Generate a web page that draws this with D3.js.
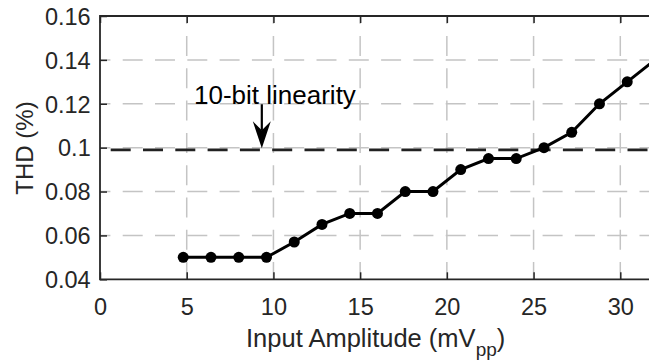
<!DOCTYPE html>
<html lang="en">
<head>
<meta charset="UTF-8">
<title>THD vs Input Amplitude</title>
<script src="https://d3js.org/d3.v7.min.js"></script>
<style>
  body { margin: 0; background: #fff; }
  svg { font-family: "Liberation Sans", Arial, Helvetica, sans-serif; }
</style>
</head>
<body>
<script>
// measured points (mVpp, THD %)
const amplitude = [4.8, 6.4, 8.0, 9.6, 11.2, 12.8, 14.4, 16.0, 17.6, 19.2, 20.8, 22.4, 24.0, 25.6, 27.2, 28.8, 30.4, 32.0];
const thd = [0.05, 0.05, 0.05, 0.05, 0.057, 0.065, 0.07, 0.07, 0.08, 0.08, 0.09, 0.095, 0.095, 0.1, 0.107, 0.12, 0.13, 0.14];

const xTicks = [0, 5, 10, 15, 20, 25, 30];
const yTicks = [0.04, 0.06, 0.08, 0.1, 0.12, 0.14, 0.16];
const yTickLabels = ["0.04", "0.06", "0.08", "0.1", "0.12", "0.14", "0.16"];

const threshold = 0.099;
const annotation = { text: "10-bit linearity", x: 9.33, yText: 0.12, yTip: threshold };

const W = 649, H = 363;
const mLeft = 100, mTop = 16, mBottom = 279.3;

const svg = d3.select("body").append("svg")
  .attr("width", W).attr("height", H);

const x = d3.scaleLinear().domain([0, 32]).range([mLeft, mLeft + 32 * 17.343]);
const y = d3.scaleLinear().domain([0.04, 0.16]).range([mBottom, mTop]);
const mRight = x(32);

const axisColor = "#262626";
const gridColor = "#c4c4c4";

// grid
const grid = svg.append("g");
xTicks.slice(1).forEach(t => {
  grid.append("line")
    .attr("x1", x(t)).attr("x2", x(t))
    .attr("y1", mTop).attr("y2", mBottom)
    .attr("stroke", gridColor).attr("stroke-width", 1.5)
    .attr("stroke-dasharray", "20,12.3")
    .attr("stroke-dashoffset", 12.3);
});
yTicks.slice(1, -1).forEach(t => {
  grid.append("line")
    .attr("x1", mLeft).attr("x2", mRight)
    .attr("y1", y(t)).attr("y2", y(t))
    .attr("stroke", gridColor).attr("stroke-width", 1.5)
    .attr("stroke-dasharray", "20,12.3")
    .attr("stroke-dashoffset", 9.6);
});

// threshold line
svg.append("line")
  .attr("x1", mLeft).attr("x2", mRight)
  .attr("y1", y(threshold)).attr("y2", y(threshold))
  .attr("stroke", "#222").attr("stroke-width", 2.7)
  .attr("stroke-dasharray", "20,12.3")
  .attr("stroke-dashoffset", -10.7);

// axes
const xAxis = svg.append("g")
  .attr("transform", `translate(0,${mBottom})`)
  .call(d3.axisBottom(x).tickValues(xTicks).tickSize(-7).tickPadding(18.7).tickFormat(d3.format("d")));
const xTop = svg.append("g")
  .attr("transform", `translate(0,${mTop})`)
  .call(d3.axisTop(x).tickValues(xTicks).tickSize(-7).tickFormat(""));
const yAxis = svg.append("g")
  .attr("transform", `translate(${mLeft},0)`)
  .call(d3.axisLeft(y).tickValues(yTicks).tickSize(-7).tickPadding(9.3)
    .tickFormat((d, i) => yTickLabels[i]));

[xAxis, xTop, yAxis].forEach(g => {
  g.select(".domain").remove();
  g.selectAll(".tick line").attr("stroke", axisColor).attr("stroke-width", 1.5);
  g.selectAll(".tick text").attr("fill", axisColor).style("font-size", "23.5px");
});
yAxis.selectAll(".tick text").attr("dy", "0.35em");

// box (left, top, bottom)
svg.append("path")
  .attr("d", `M${mRight},${mTop}H${mLeft}V${mBottom}H${mRight}`)
  .attr("fill", "none").attr("stroke", axisColor).attr("stroke-width", 1.8);

// data
const pts = amplitude.map((a, i) => [a, thd[i]]);
svg.append("path")
  .datum(pts)
  .attr("fill", "none").attr("stroke", "#000").attr("stroke-width", 3)
  .attr("d", d3.line().x(d => x(d[0])).y(d => y(d[1])));
svg.selectAll("circle.pt").data(pts).join("circle")
  .attr("class", "pt")
  .attr("cx", d => x(d[0])).attr("cy", d => y(d[1]))
  .attr("r", 5.5).attr("fill", "#000");

// annotation
const ax = x(annotation.x), ay0 = y(annotation.yText) + 0.5, ay1 = y(annotation.yTip) - 1.5;
svg.append("line")
  .attr("x1", ax).attr("x2", ax).attr("y1", ay0).attr("y2", ay1 - 18)
  .attr("stroke", "#000").attr("stroke-width", 2.2);
svg.append("path")
  .attr("d", `M${ax},${ay1}L${ax - 9},${ay1 - 27}L${ax},${ay1 - 18}L${ax + 9},${ay1 - 27}Z`)
  .attr("fill", "#000");
svg.append("text")
  .attr("x", 194).attr("y", ay0 - 0.5)
  .style("font-size", "26px").attr("fill", "#000")
  .text(annotation.text);

// axis labels
const xl = svg.append("text")
  .attr("x", 246).attr("y", 347)
  .style("font-size", "25.5px").attr("fill", axisColor);
xl.append("tspan").text("Input Amplitude (mV");
xl.append("tspan").attr("dy", 9).style("font-size", "19px").text("pp");
xl.append("tspan").attr("dy", -9).text(")");

svg.append("text")
  .attr("transform", "translate(33,148) rotate(-90)")
  .attr("text-anchor", "middle")
  .style("font-size", "24px").attr("fill", axisColor)
  .text("THD (%)");
</script>
</body>
</html>
